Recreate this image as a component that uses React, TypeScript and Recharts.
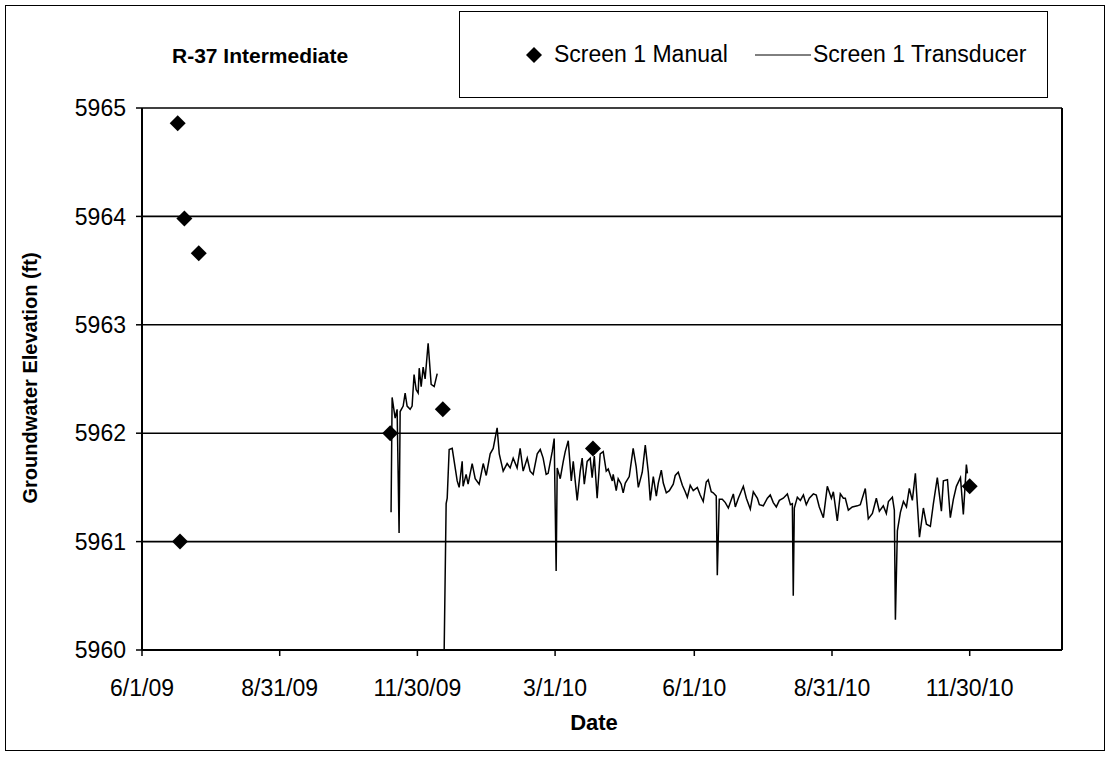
import React from 'react';
import {
  ComposedChart, Line, Scatter, XAxis, YAxis, CartesianGrid, ReferenceLine, Legend
} from 'recharts';

const FONT = '"Liberation Sans", Arial, sans-serif';

// x values are days since 6/1/09
const DATE_TICKS = [0, 91, 182, 273, 365, 456, 547];
const DATE_LABELS = ['6/1/09', '8/31/09', '11/30/09', '3/1/10', '6/1/10', '8/31/10', '11/30/10'];
const ELEV_TICKS = [5960, 5961, 5962, 5963, 5964, 5965];
const SERIES = ['Screen 1 Manual', 'Screen 1 Transducer'];

const manualDays = [23.6, 25.1, 28, 37.5, 164, 198.8, 298, 547];
const manualElev = [5964.86, 5961.0, 5963.98, 5963.66, 5962.0, 5962.22, 5961.86, 5961.51];

const transducerDays = [
  164.6, 165.3, 167.3, 168.6, 169.9, 170.6, 172.6, 173.9, 175.2, 177.2, 178.5, 179.8, 181.2, 182.5, 183.2,
  184.5, 185.8, 187.1, 189.1, 191.1, 193.1, 195.1, 197.0,
  199.7, 201.0, 201.7, 203.0, 205.0, 208.3, 209.6, 211.6, 212.2, 214.2, 215.5, 218.2, 220.2, 222.8, 225.5,
  227.5, 230.1, 232.1, 234.7, 236.1, 238.7, 241.3, 243.3, 245.3, 247.9, 249.9, 251.9, 254.6, 256.5, 258.5,
  261.2, 263.2, 265.1, 267.1, 268.4, 271.1, 272.4, 273.7, 274.4, 276.4, 278.4, 279.7, 281.7, 283.7, 285.0,
  287.6, 289.6, 290.9, 292.3, 294.2, 296.2, 297.5, 298.9, 300.8, 302.8, 304.8, 306.8, 308.1, 310.8, 311.4,
  313.4, 314.7, 316.7, 318.0, 319.4, 322.0, 324.6, 326.6, 328.0, 330.6, 332.6, 334.6, 335.9, 337.9, 339.9,
  341.2, 343.2, 344.5, 346.5, 348.5, 351.1, 352.4, 354.4, 357.1, 359.0, 360.4, 362.3, 364.3, 367.0, 368.9,
  370.9, 372.9, 374.2, 376.2, 377.5, 379.5, 380.2, 381.5, 383.5, 385.5, 387.5, 390.8, 392.1, 394.1, 397.4,
  399.4, 402.0, 404.0, 406.7, 408.0, 410.6, 413.3, 415.2, 417.2, 419.2, 421.2, 423.8, 426.5, 428.5, 429.8,
  430.4, 431.1, 433.1, 435.1, 437.1, 439.0, 441.0, 443.7, 445.6, 447.6, 450.3, 452.9, 455.6, 456.9, 459.5,
  461.5, 463.5, 464.8, 466.8, 469.4, 472.8, 474.7, 478.0, 480.0, 482.7, 485.3, 487.3, 489.9, 491.9, 493.3,
  495.9, 497.2, 497.9, 499.2, 501.2, 503.2, 505.2, 507.1, 509.1, 511.1, 513.8, 516.4, 518.4, 521.0, 523.0,
  525.6, 528.3, 529.6, 532.3, 534.2, 536.2, 538.2, 540.9, 542.8, 544.8, 545.5,
];

const transducerElev = [
  5961.27, 5962.33, 5962.14, 5962.22, 5961.08, 5962.20, 5962.25, 5962.37, 5962.25, 5962.22, 5962.25, 5962.54, 5962.40, 5962.37, 5962.60,
  5962.43, 5962.61, 5962.50, 5962.83, 5962.45, 5962.43, 5962.55, null,
  5960.00, 5961.35, 5961.40, 5961.85, 5961.86, 5961.56, 5961.50, 5961.74, 5961.51, 5961.62, 5961.53, 5961.72, 5961.58, 5961.53, 5961.72,
  5961.61, 5961.81, 5961.86, 5962.05, 5961.81, 5961.65, 5961.72, 5961.68, 5961.77, 5961.68, 5961.86, 5961.65, 5961.77, 5961.65, 5961.62,
  5961.81, 5961.85, 5961.77, 5961.62, 5961.63, 5961.83, 5961.95, 5960.73, 5961.68, 5961.58, 5961.74, 5961.83, 5961.93, 5961.56, 5961.74,
  5961.38, 5961.65, 5961.77, 5961.53, 5961.74, 5961.77, 5961.59, 5961.79, 5961.40, 5961.81, 5961.83, 5961.65, 5961.67, 5961.56, 5961.62,
  5961.47, 5961.58, 5961.53, 5961.45, 5961.54, 5961.60, 5961.86, 5961.69, 5961.50, 5961.64, 5961.89, 5961.64, 5961.38, 5961.60, 5961.42,
  5961.54, 5961.66, 5961.54, 5961.45, 5961.47, 5961.53, 5961.61, 5961.64, 5961.52, 5961.46, 5961.41, 5961.52, 5961.47, 5961.50, 5961.43,
  5961.37, 5961.55, 5961.57, 5961.46, 5961.45, 5961.42, 5960.69, 5961.39, 5961.39, 5961.36, 5961.31, 5961.44, 5961.32, 5961.40, 5961.51,
  5961.40, 5961.30, 5961.46, 5961.40, 5961.34, 5961.33, 5961.40, 5961.43, 5961.36, 5961.32, 5961.38, 5961.40, 5961.44, 5961.34, 5961.35,
  5960.50, 5961.31, 5961.41, 5961.38, 5961.43, 5961.34, 5961.40, 5961.44, 5961.43, 5961.32, 5961.22, 5961.51, 5961.40, 5961.46, 5961.19,
  5961.44, 5961.40, 5961.40, 5961.29, 5961.32, 5961.33, 5961.34, 5961.49, 5961.21, 5961.26, 5961.40, 5961.28, 5961.33, 5961.26, 5961.37,
  5961.41, 5961.29, 5960.28, 5961.10, 5961.27, 5961.37, 5961.32, 5961.49, 5961.38, 5961.63, 5961.04, 5961.31, 5961.16, 5961.14, 5961.35,
  5961.59, 5961.28, 5961.56, 5961.57, 5961.22, 5961.39, 5961.51, 5961.59, 5961.25, 5961.71, 5961.63,
];

const X_MAX = 608;

const manualData = manualDays.map((d, i) => ({ d, v: manualElev[i] }));
const transducerData = transducerDays.map((d, i) => ({ d, v: transducerElev[i] }));

const Diamond = (props: any) => {
  const { cx, cy } = props;
  if (cx == null || cy == null) return null;
  const r = 8;
  return <polygon points={`${cx},${cy - r} ${cx + r},${cy} ${cx},${cy + r} ${cx - r},${cy}`} fill="#000" />;
};

const LegendBox = (props: any) => {
  const items = [...(props.payload || [])].sort((a, b) => SERIES.indexOf(a.value) - SERIES.indexOf(b.value));
  return (
    <div style={{
      width: '100%', height: '100%', boxSizing: 'border-box', border: '1.5px solid #000', background: '#fff',
      display: 'flex', alignItems: 'center', paddingLeft: 66, fontFamily: FONT, fontSize: 23, color: '#000',
      whiteSpace: 'nowrap', overflow: 'hidden'
    }}>
      {items.map((it) => (
        <div key={it.value} style={{ display: 'flex', alignItems: 'center', marginRight: 27, flexShrink: 0 }}>
          {it.value === SERIES[0] ? (
            <svg width={16} height={16} style={{ marginRight: 12 }}>
              <polygon points="8,0 16,8 8,16 0,8" fill="#000" />
            </svg>
          ) : (
            <svg width={56} height={4} style={{ marginRight: 2 }}>
              <line x1={0} y1={2} x2={56} y2={2} stroke="#000" strokeWidth={1} />
            </svg>
          )}
          <span>{it.value}</span>
        </div>
      ))}
    </div>
  );
};

const yLabel = () => (
  <text x={37} y={378} transform="rotate(-90 37 378)" textAnchor="middle"
    style={{ fontFamily: FONT, fontSize: 20, fontWeight: 700, fill: '#000' }}>
    Groundwater Elevation (ft)
  </text>
);

const xLabel = () => (
  <text x={594} y={730} textAnchor="middle"
    style={{ fontFamily: FONT, fontSize: 22, fontWeight: 700, fill: '#000' }}>
    Date
  </text>
);

export default function App() {
  return (
    <div style={{ position: 'absolute', left: 0, top: 0, width: 1112, height: 757, background: '#fff' }}>
      {/* outer chart frame */}
      <div style={{ position: 'absolute', left: 5, top: 5, width: 1100, height: 746, border: '1.5px solid #000', boxSizing: 'border-box' }} />
      <div style={{
        position: 'absolute', left: 172, top: 44, fontFamily: FONT, fontSize: 21, fontWeight: 700, color: '#000'
      }}>
        R-37 Intermediate
      </div>
      <ComposedChart width={1112} height={757} margin={{ top: 108, right: 50, bottom: 17, left: 0 }}>
        <CartesianGrid horizontal vertical={false} stroke="#000" strokeWidth={1.6} />
        <XAxis
          dataKey="d" type="number" domain={[0, X_MAX]} ticks={DATE_TICKS} allowDataOverflow height={90}
          tickFormatter={(v: number) => DATE_LABELS[DATE_TICKS.indexOf(v)] ?? ''}
          tick={{ fill: '#000', fontSize: 23, fontFamily: FONT }} tickSize={6} tickMargin={24}
          axisLine={{ stroke: '#000', strokeWidth: 2 }} tickLine={{ stroke: '#000', strokeWidth: 1.5 }}
          label={{ content: xLabel }}
        />
        <YAxis
          type="number" domain={[5960, 5965]} ticks={ELEV_TICKS} allowDataOverflow width={142}
          tick={{ fill: '#000', fontSize: 23, fontFamily: FONT }} tickSize={6} tickMargin={10}
          axisLine={{ stroke: '#000', strokeWidth: 2 }} tickLine={{ stroke: '#000', strokeWidth: 1.5 }}
          label={{ content: yLabel }}
        />
        <ReferenceLine x={X_MAX} stroke="#000" strokeWidth={2} />
        <Legend
          layout="horizontal" verticalAlign="middle" align="center"
          wrapperStyle={{ left: 459, top: 11, width: 589, height: 87 }}
          content={<LegendBox />}
        />
        <Line
          name={SERIES[1]} data={transducerData} dataKey="v" type="linear" stroke="#000" strokeWidth={1.5}
          dot={false} activeDot={false} isAnimationActive={false} legendType="line"
        />
        <Scatter
          name={SERIES[0]} data={manualData} dataKey="v" fill="#000" shape={<Diamond />}
          isAnimationActive={false} legendType="diamond"
        />
      </ComposedChart>
    </div>
  );
}
